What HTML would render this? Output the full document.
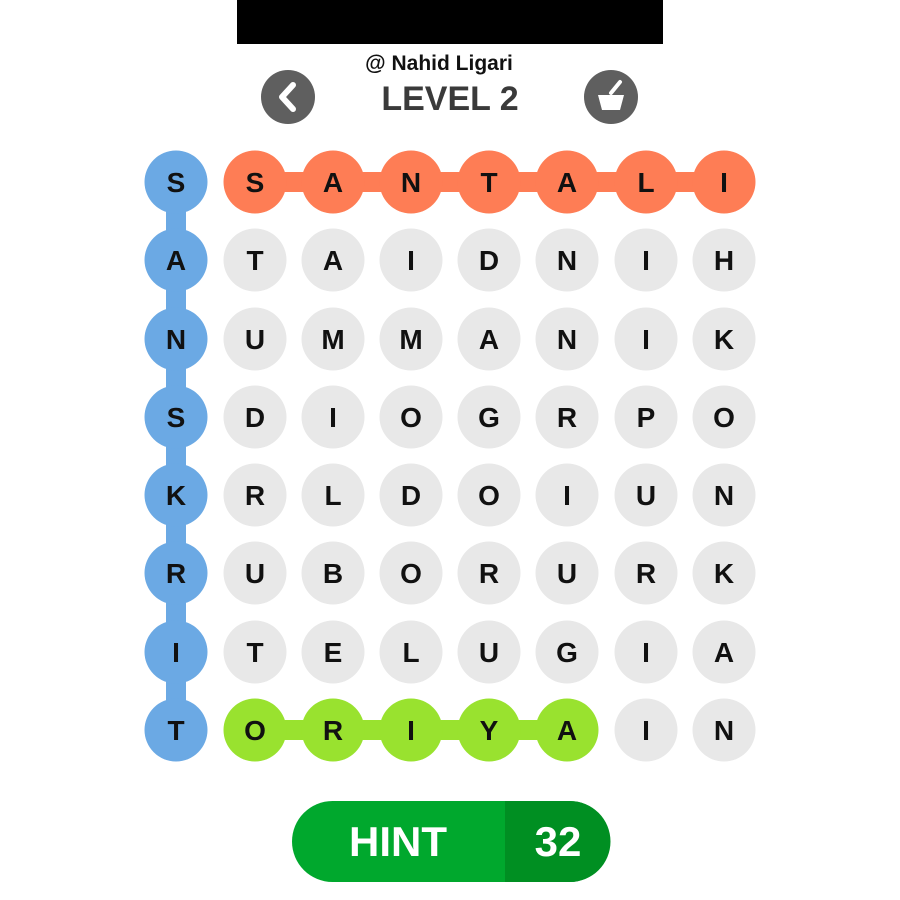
<!DOCTYPE html>
<html><head><meta charset="utf-8"><style>
html,body{margin:0;padding:0;background:#fff;width:900px;height:900px;overflow:hidden}
svg{display:block}
text{font-family:"Liberation Sans",Arial,sans-serif;font-weight:bold}
</style></head><body>
<svg width="900" height="900" viewBox="0 0 900 900">
<rect x="237" y="0" width="426" height="44" fill="#000"/>
<text x="439" y="70" font-size="21" text-anchor="middle" fill="#111">@ Nahid Ligari</text>
<text x="450" y="110" font-size="34" text-anchor="middle" fill="#3a3a3a">LEVEL 2</text>
<circle cx="288" cy="97" r="27" fill="#5f5f5f"/>
<path d="M293 85 L282 97 L293 109" stroke="#fff" stroke-width="6" fill="none" stroke-linecap="round" stroke-linejoin="round"/>
<circle cx="611" cy="97" r="27" fill="#5f5f5f"/>
<path d="M598 95 L624 95 L620 110 L602 110 Z" fill="#fff"/>
<path d="M611 93 L620 82" stroke="#fff" stroke-width="4" stroke-linecap="round"/>
<rect x="166" y="182" width="20" height="548" fill="#6ba9e4"/>
<rect x="255" y="172" width="469" height="20" fill="#fe7d55"/>
<rect x="255" y="720" width="312" height="20" fill="#99e22f"/>
<g id="g"></g>
<rect x="292" y="801" width="318" height="81" rx="40.5" fill="#00a82d"/>
<path d="M505 801 L570 801 A40.5 40.5 0 0 1 570 882 L505 882 Z" fill="#008f22"/>
<text x="398" y="856" font-size="42" text-anchor="middle" fill="#fff">HINT</text>
<text x="558" y="856" font-size="42" text-anchor="middle" fill="#fff">32</text>
</svg>
<script>
var rows=["SSANTALI","ATAIDNIH","NUMMANIK","SDIOGRPO","KRLDOIUN","RUBORURK","ITELUGIA","TORIYAIN"];
var xs=[176,255,333,411,489,567,646,724],ys=[182,260,339,417,495,573,652,730];
var s="";
for(var r=0;r<8;r++)for(var c=0;c<8;c++){
var col="#e8e8e8";
if(c==0)col="#6ba9e4";else if(r==0)col="#fe7d55";else if(r==7&&c<=5)col="#99e22f";
s+='<circle cx="'+xs[c]+'" cy="'+ys[r]+'" r="31.5" fill="'+col+'"/>';
s+='<text x="'+xs[c]+'" y="'+(ys[r]+10)+'" font-size="28" text-anchor="middle" fill="#111">'+rows[r][c]+'</text>';
}
document.getElementById("g").innerHTML=s;
</script>
</body></html>
